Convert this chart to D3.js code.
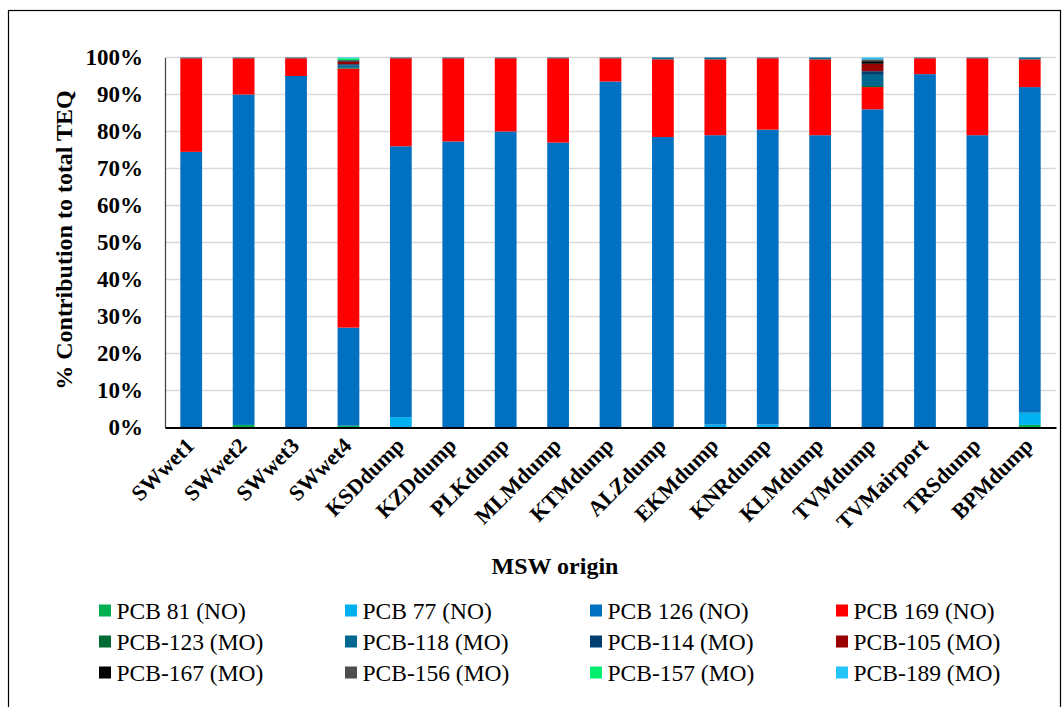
<!DOCTYPE html>
<html>
<head>
<meta charset="utf-8">
<script src="https://cdn.jsdelivr.net/npm/d3@7"></script>
<style>
  html, body { margin: 0; padding: 0; background: #fff; }
  svg, svg text { font-family: "Liberation Serif", "Tinos", "Times New Roman", "DejaVu Serif", serif !important; }
</style>
</head>
<body>
<svg id="chart" width="1062" height="707"></svg>
<script>
// Sampling sites (MSW origin)
const categories = ["SWwet1", "SWwet2", "SWwet3", "SWwet4", "KSDdump", "KZDdump", "PLKdump",
  "MLMdump", "KTMdump", "ALZdump", "EKMdump", "KNRdump", "KLMdump", "TVMdump",
  "TVMairport", "TRSdump", "BPMdump"];

// % contribution of each congener to total TEQ
const pcb81  = [0, 0.7, 0, 0.5, 0, 0, 0, 0, 0, 0, 0, 0, 0, 0, 0, 0, 0.7];
const pcb77  = [0, 0, 0, 0, 2.8, 0, 0, 0, 0, 0, 0.8, 0.8, 0, 0, 0, 0, 3.3];
const pcb126 = [74.5, 89.3, 95, 26.5, 73.2, 77.3, 80, 77, 93.5, 78.5, 78.2, 79.7, 79, 86, 95.5, 79, 88];
const pcb169 = [25.3, 9.8, 4.8, 70, 23.8, 22.5, 19.8, 22.8, 6.3, 21, 20.5, 19.3, 20.5, 6, 4.3, 20.8, 7.5];
const pcb123 = [0, 0, 0, 0.2, 0, 0, 0, 0, 0, 0, 0, 0, 0, 0.3, 0, 0, 0];
const pcb118 = [0.2, 0.2, 0.2, 0.6, 0.2, 0.2, 0.2, 0.2, 0.2, 0.5, 0.5, 0.2, 0.5, 3.0, 0.2, 0.2, 0.5];
const pcb114 = [0, 0, 0, 0.4, 0, 0, 0, 0, 0, 0, 0, 0, 0, 1.0, 0, 0, 0];
const pcb105 = [0, 0, 0, 0.6, 0, 0, 0, 0, 0, 0, 0, 0, 0, 2.0, 0, 0, 0];
const pcb167 = [0, 0, 0, 0.2, 0, 0, 0, 0, 0, 0, 0, 0, 0, 0.7, 0, 0, 0];
const pcb156 = [0, 0, 0, 0.3, 0, 0, 0, 0, 0, 0, 0, 0, 0, 0.5, 0, 0, 0];
const pcb157 = [0, 0, 0, 0.5, 0, 0, 0, 0, 0, 0, 0, 0, 0, 0, 0, 0, 0];
const pcb189 = [0, 0, 0, 0.2, 0, 0, 0, 0, 0, 0, 0, 0, 0, 0.5, 0, 0, 0];

const seriesNames = ["PCB 81 (NO)", "PCB 77 (NO)", "PCB 126 (NO)", "PCB 169 (NO)",
  "PCB-123 (MO)", "PCB-118 (MO)", "PCB-114 (MO)", "PCB-105 (MO)",
  "PCB-167 (MO)", "PCB-156 (MO)", "PCB-157 (MO)", "PCB-189 (MO)"];
const seriesValues = [pcb81, pcb77, pcb126, pcb169, pcb123, pcb118, pcb114, pcb105,
  pcb167, pcb156, pcb157, pcb189];
const seriesColors = ["#00b050", "#00b0f0", "#0070c0", "#ff0000",
  "#006b33", "#006890", "#003f72", "#990000",
  "#000000", "#4d4d4d", "#00ee6e", "#25c4f8"];

const yTicks = [0, 10, 20, 30, 40, 50, 60, 70, 80, 90, 100];

// Build rows for d3.stack
const rows = categories.map((c, i) => {
  const r = { site: c };
  seriesNames.forEach((s, j) => { r[s] = seriesValues[j][i]; });
  return r;
});
const stacked = d3.stack().keys(seriesNames)(rows);

const svg = d3.select("#chart");
svg.append("rect").attr("width", 1062).attr("height", 707).attr("fill", "#fff");
// Outer frame
svg.append("rect")
  .attr("x", 8.5).attr("y", 10.5).attr("width", 1052).attr("height", 720)
  .attr("fill", "none").attr("stroke", "#000").attr("stroke-width", 1.2);

const plot = { left: 165, right: 1056, top: 57.5, bottom: 427.5 };

const x = d3.scaleBand().domain(categories)
  .range([plot.left, plot.right])
  .paddingInner(0.585).paddingOuter(0.2925);
const y = d3.scaleLinear().domain([0, 100]).range([plot.bottom, plot.top]);

// Gridlines
svg.append("g").selectAll("line").data(yTicks.filter(t => t > 0)).join("line")
  .attr("x1", plot.left).attr("x2", plot.right)
  .attr("y1", d => y(d)).attr("y2", d => y(d))
  .attr("stroke", "#d9d9d9").attr("stroke-width", 1.3);

// Stacked bars
svg.append("g").selectAll("g").data(stacked).join("g")
  .attr("fill", (d, i) => seriesColors[i])
  .selectAll("rect").data(d => d).join("rect")
  .attr("x", d => x(d.data.site))
  .attr("width", x.bandwidth())
  .attr("y", d => y(d[1]))
  .attr("height", d => Math.max(0, y(d[0]) - y(d[1])));

// Y axis
const yAxis = svg.append("g")
  .attr("transform", `translate(${plot.left},0)`)
  .call(d3.axisLeft(y).tickValues(yTicks).tickSize(0).tickPadding(22).tickFormat(d => d + "%"));
yAxis.attr("font-family", null);
yAxis.select(".domain").attr("stroke", "#404040").attr("stroke-width", 1.2);
yAxis.selectAll("text")
  .attr("font-size", 23).attr("font-weight", "bold").attr("fill", "#000");

// X axis
const xAxis = svg.append("g")
  .attr("transform", `translate(0,${plot.bottom})`)
  .call(d3.axisBottom(x).tickSize(0).tickPadding(0));
xAxis.attr("font-family", null);
xAxis.select(".domain").attr("stroke", "#000").attr("stroke-width", 1.8);
xAxis.selectAll("text")
  .attr("font-size", 22).attr("font-weight", "bold").attr("fill", "#000")
  .attr("text-anchor", "end")
  .attr("dy", "0.35em")
  .attr("transform", "translate(-1,14) rotate(-45)");

// Axis titles
svg.append("text")
  .attr("transform", "translate(72,240) rotate(-90)")
  .attr("text-anchor", "middle")
  .attr("font-size", 24).attr("font-weight", "bold")
  .text("% Contribution to total TEQ");
svg.append("text")
  .attr("x", 555).attr("y", 574)
  .attr("text-anchor", "middle")
  .attr("font-size", 24).attr("font-weight", "bold")
  .text("MSW origin");

// Legend: 4 columns x 3 rows
const legX = [99, 345, 590, 836];
const legY = [610.5, 641.5, 672.5];
const leg = svg.append("g").selectAll("g").data(seriesNames).join("g")
  .attr("transform", (d, i) => `translate(${legX[i % 4]},${legY[Math.floor(i / 4)]})`);
leg.append("rect").attr("x", 0).attr("y", -6).attr("width", 12).attr("height", 12)
  .attr("fill", (d, i) => seriesColors[i]);
leg.append("text").attr("x", 17.5).attr("y", 0).attr("dy", "0.35em")
  .attr("font-size", 23.5).attr("fill", "#000")
  .text(d => d);
</script>
</body>
</html>
